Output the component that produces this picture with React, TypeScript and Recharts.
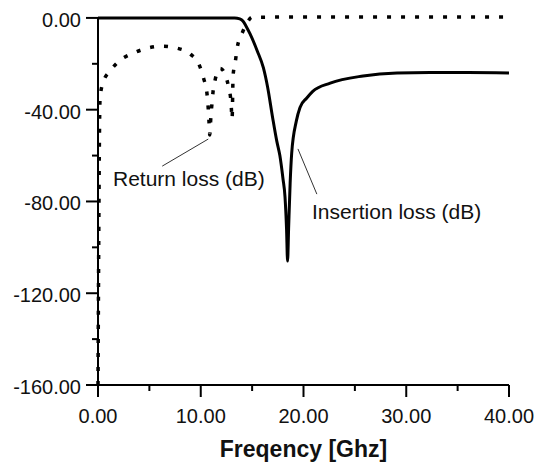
import { LineChart, Line, XAxis, YAxis, ReferenceLine, ReferenceDot } from 'recharts'

// Return loss (dotted)
const returnGhz = [0, 0.2, 0.5, 1.2, 2.0, 3.4, 4.8, 6.2, 7.7, 9.0, 9.9, 10.3, 10.6, 10.72, 10.8, 10.87, 11.0, 11.1, 11.2, 11.4, 11.9, 12.4, 12.7, 12.95, 13.05, 13.15, 13.35, 13.55, 14.0, 14.5, 15.0, 20, 25, 30, 35, 40]
const returnDb = [-160, -35, -28, -23, -19, -15.4, -13.2, -12.3, -13.2, -15.8, -21, -26.7, -32.7, -39, -45, -51, -42, -37, -32, -27, -22, -25, -30, -37, -44, -25, -19.5, -13, -7, -2.2, 0.3, 0.4, 0.4, 0.4, 0.4, 0.4]

// Insertion loss (solid)
const insertionGhz = [0, 13.3, 13.8, 14.1, 14.4, 14.8, 15.5, 16.1, 16.5, 17.0, 17.4, 17.7, 18.0, 18.2, 18.35, 18.45, 18.55, 18.7, 18.85, 19.3, 19.66, 20.3, 20.9, 22.6, 25.8, 29.1, 32.3, 36, 40]
const insertionDb = [0, 0, -0.4, -1.3, -3.5, -7, -14.4, -21.8, -30, -43.6, -53.7, -60, -70, -78, -92, -106, -92, -72, -59, -45, -39, -35, -32, -28.4, -25.3, -24, -23.8, -23.8, -24]

const xTicks = [0, 5, 10, 15, 20, 25, 30, 35, 40]
const yTicks = [-160, -140, -120, -100, -80, -60, -40, -20, 0]

const returnData = returnGhz.map((f, i) => ({ f, db: returnDb[i] }))
const insertionData = insertionGhz.map((f, i) => ({ f, db: insertionDb[i] }))

const font = '"Liberation Sans", Arial, sans-serif'

const XTick = (props: any) => {
  const { x, y, payload } = props
  const major = payload.value % 10 === 0
  return (
    <g>
      <line x1={x} x2={x} y1={y} y2={y + (major ? 12 : 6)} stroke="#000" strokeWidth={2} />
      {major && (
        <text x={x} y={y + 38} textAnchor="middle" fontSize={20} fontFamily={font} fill="#111">
          {payload.value.toFixed(2)}
        </text>
      )}
    </g>
  )
}

const YTick = (props: any) => {
  const { x, y, payload } = props
  const major = payload.value % 40 === 0
  return (
    <g>
      <line x1={x - (major ? 12 : 6)} x2={x} y1={y} y2={y} stroke="#000" strokeWidth={2} />
      {major && (
        <text x={x - 17} y={y + 9} textAnchor="end" fontSize={20} fontFamily={font} fill="#111">
          {payload.value.toFixed(2)}
        </text>
      )}
    </g>
  )
}

const Note = (text: string) => (props: any) => (
  <text x={props.cx} y={props.cy} fontSize={21} fontFamily={font} fill="#111">{text}</text>
)

export default function App() {
  return (
    // pinned to the page corner so the 40.00 label and axis title are not cut by the body margin
    <div style={{ position: 'absolute', left: 0, top: 0 }}>
      <LineChart width={537} height={466} margin={{ top: 17, right: 28, bottom: 11, left: 18 }}>
        <XAxis
          dataKey="f"
          type="number"
          domain={[0, 40]}
          ticks={xTicks}
          interval={0}
          tickLine={false}
          tickSize={0}
          tickMargin={0}
          tick={<XTick />}
          axisLine={{ stroke: '#000', strokeWidth: 2 }}
          height={70}
          label={{ value: 'Freqency [Ghz]', position: 'insideBottom', offset: -2, fontSize: 23, fontWeight: 'bold', fontFamily: font, fill: '#111' }}
        />
        <YAxis
          type="number"
          domain={[-160, 0]}
          ticks={yTicks}
          interval={0}
          tickLine={false}
          tickSize={0}
          tickMargin={0}
          tick={<YTick />}
          axisLine={{ stroke: '#000', strokeWidth: 2 }}
          width={80}
        />
        <Line data={insertionData} dataKey="db" type="monotone" stroke="#000" strokeWidth={3} dot={false} isAnimationActive={false} />
        <Line data={returnData} dataKey="db" type="monotone" stroke="#000" strokeWidth={3.5} strokeDasharray="4 10" dot={false} isAnimationActive={false} />
        <ReferenceLine segment={[{ x: 10.73, y: -52.8 }, { x: 6.25, y: -64.6 }]} stroke="#333" strokeWidth={1} />
        <ReferenceLine segment={[{ x: 19.46, y: -57.1 }, { x: 21.3, y: -76.8 }]} stroke="#333" strokeWidth={1} />
        <ReferenceDot x={1.46} y={-73.3} r={0} shape={Note('Return loss (dB)')} />
        <ReferenceDot x={20.83} y={-87.7} r={0} shape={Note('Insertion loss (dB)')} />
      </LineChart>
    </div>
  )
}
